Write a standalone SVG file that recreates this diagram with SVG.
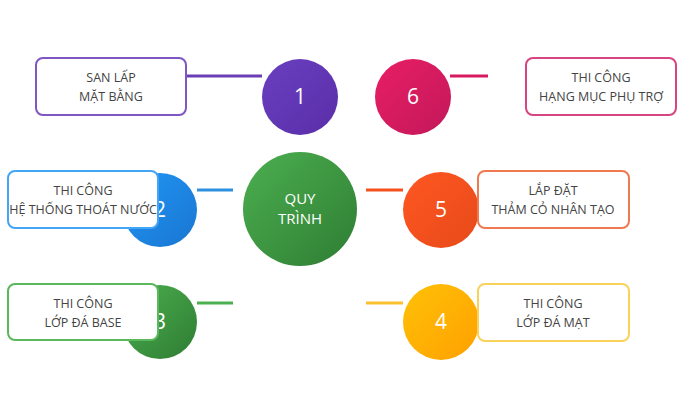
<svg xmlns="http://www.w3.org/2000/svg" width="686" height="400" viewBox="0 0 686 400">
<defs>
<linearGradient id="gP" x1="0" y1="0" x2="1" y2="1"><stop offset="0" stop-color="#6a3fc0"/><stop offset="1" stop-color="#5a2ea8"/></linearGradient>
<linearGradient id="gB" x1="0" y1="0" x2="1" y2="1"><stop offset="0" stop-color="#2196f3"/><stop offset="1" stop-color="#1976d2"/></linearGradient>
<linearGradient id="gG" x1="0" y1="0" x2="1" y2="1"><stop offset="0" stop-color="#4caf50"/><stop offset="1" stop-color="#2e7d32"/></linearGradient>
<linearGradient id="gM" x1="0" y1="0" x2="1" y2="1"><stop offset="0" stop-color="#e91e63"/><stop offset="1" stop-color="#c2185b"/></linearGradient>
<linearGradient id="gO" x1="0" y1="0" x2="1" y2="1"><stop offset="0" stop-color="#ff5722"/><stop offset="1" stop-color="#e64a19"/></linearGradient>
<linearGradient id="gY" x1="0" y1="0" x2="1" y2="1"><stop offset="0" stop-color="#ffc107"/><stop offset="1" stop-color="#ffa000"/></linearGradient>
</defs>
<style>
text{font-family:"Open Sans","Noto Sans","Liberation Sans",sans-serif;text-anchor:middle}
.t{font-size:12.5px;fill:#444}
.n{font-size:21px;fill:#fff}
.c{font-size:15px;fill:#fff}
.box{fill:#fff;stroke-width:2}
.ln{stroke-width:3;fill:none}
</style>
<rect width="686" height="400" fill="#fff"/>
<g id="connectors">
<line class="ln" x1="187" y1="76" x2="262" y2="76" stroke="#6a3fb5"/>
<line class="ln" x1="197" y1="190" x2="233" y2="190" stroke="#2f8fe0"/>
<line class="ln" x1="197" y1="303" x2="233" y2="303" stroke="#4caf50"/>
<line class="ln" x1="450" y1="76" x2="488" y2="76" stroke="#d81b60"/>
<line class="ln" x1="366" y1="190" x2="403" y2="190" stroke="#f4511e"/>
<line class="ln" x1="366" y1="303" x2="403" y2="303" stroke="#fbc02d"/>
</g>
<g id="center"><circle cx="300" cy="209" r="57" fill="url(#gG)"/><text class="c" x="300" y="204">QUY</text><text class="c" x="300" y="224">TRÌNH</text></g>
<g id="n1"><rect class="box" x="36" y="58" width="150" height="57" rx="7" stroke="#7e57c2"/><text class="t" x="111" y="82">SAN LẤP</text><text class="t" x="111" y="101">MẶT BẰNG</text><circle cx="300" cy="97" r="38" fill="url(#gP)"/><text class="n" x="300" y="104">1</text></g>
<g id="n2"><circle cx="160" cy="210" r="37" fill="url(#gB)"/><text class="n" x="160" y="217">2</text><rect class="box" x="8" y="171" width="150" height="57" rx="7" stroke="#42a5f5"/><text class="t" x="83" y="195">THI CÔNG</text><text class="t" x="83" y="214">HỆ THỐNG THOÁT NƯỚC</text></g>
<g id="n3"><circle cx="160" cy="322" r="37" fill="url(#gG)"/><text class="n" x="160" y="329">3</text><rect class="box" x="8" y="284" width="150" height="56" rx="7" stroke="#5cb85c"/><text class="t" x="83" y="308">THI CÔNG</text><text class="t" x="83" y="327">LỚP ĐÁ BASE</text></g>
<g id="n6"><circle cx="413" cy="97" r="38" fill="url(#gM)"/><text class="n" x="413" y="104">6</text><rect class="box" x="526" y="58" width="150" height="57" rx="7" stroke="#d6457f"/><text class="t" x="601" y="82">THI CÔNG</text><text class="t" x="601" y="101">HẠNG MỤC PHỤ TRỢ</text></g>
<g id="n5"><circle cx="441" cy="210" r="38" fill="url(#gO)"/><text class="n" x="441" y="217">5</text><rect class="box" x="478" y="171" width="151" height="57" rx="7" stroke="#f07a50"/><text class="t" x="553" y="195">LẮP ĐẶT</text><text class="t" x="553" y="214">THẢM CỎ NHÂN TẠO</text></g>
<g id="n4"><circle cx="441" cy="322" r="38" fill="url(#gY)"/><text class="n" x="441" y="329">4</text><rect class="box" x="478" y="284" width="151" height="57" rx="7" stroke="#f9d25a"/><text class="t" x="553" y="308">THI CÔNG</text><text class="t" x="553" y="327">LỚP ĐÁ MẠT</text></g>
</svg>
